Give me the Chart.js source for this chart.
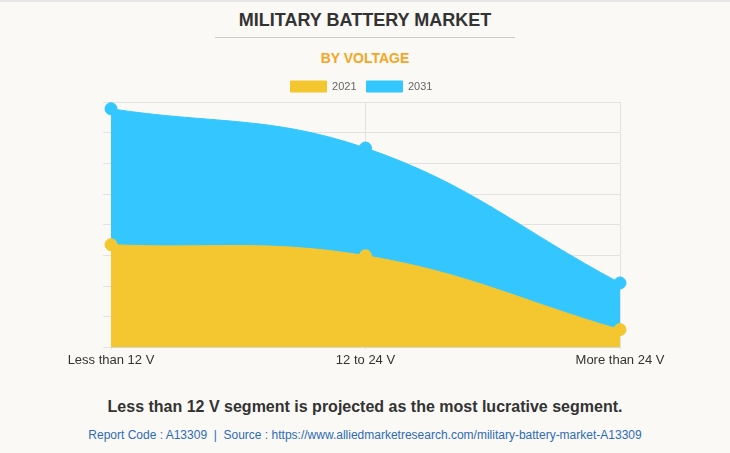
<!DOCTYPE html>
<html lang="en">
<head>
    <meta charset="UTF-8">
    <title>Military Battery Market</title>
    <style>
        html, body {
            margin: 0;
            padding: 0;
        }
        body {
            width: 730px;
            height: 453px;
            background-color: #faf9f5;
            font-family: "Liberation Sans", Arial, sans-serif;
            position: relative;
            overflow: hidden;
        }
        .frame {
            position: absolute;
            left: 0; top: 0; right: 0; bottom: 0;
            border-top: 2px solid #e6e6e6;
        }
        h1 {
            position: absolute;
            top: 10px; left: 0; width: 730px;
            margin: 0;
            text-align: center;
            font-size: 18px;
            font-weight: bold;
            color: #333;
        }
        .rule {
            position: absolute;
            top: 37px; left: 215px; width: 300px;
            border-top: 1px solid #ccc;
        }
        h2 {
            position: absolute;
            top: 50px; left: 0; width: 730px;
            margin: 0;
            text-align: center;
            font-size: 14px;
            font-weight: bold;
            color: #f5a623;
        }
        #chart-box {
            position: absolute;
            left: 0; top: 71px;
            width: 730px; height: 300px;
        }
        .note {
            position: absolute;
            top: 398px; left: 0; width: 730px;
            text-align: center;
            font-size: 16px;
            font-weight: bold;
            color: #333;
        }
        .source {
            position: absolute;
            top: 428px; left: 0; width: 730px;
            text-align: center;
            font-size: 12px;
            color: #2e6bb5;
        }
    </style>
</head>
<body>
    <div class="frame"></div>
    <h1>MILITARY BATTERY MARKET</h1>
    <div class="rule"></div>
    <h2>BY VOLTAGE</h2>
    <div id="chart-box"><canvas id="voltage-chart"></canvas></div>
    <div class="note">Less than 12 V segment is projected as the most lucrative segment.</div>
    <div class="source">Report Code : A13309 &nbsp;|&nbsp; Source : https://www.alliedmarketresearch.com/military-battery-market-A13309</div>

    <script src="https://cdn.jsdelivr.net/npm/chart.js"></script>
    <script>
        const categories = ['Less than 12 V', '12 to 24 V', 'More than 24 V'];
        const values2021 = [3.35, 2.99, 0.58];
        const values2031 = [7.78, 6.5, 2.1];

        const yellow = '#f4c730';
        const blue = '#33c6ff';

        new Chart(document.getElementById('voltage-chart'), {
            type: 'line',
            data: {
                labels: categories,
                datasets: [
                    {
                        label: '2021',
                        data: values2021,
                        backgroundColor: yellow,
                        borderColor: yellow,
                        pointBackgroundColor: yellow,
                        borderWidth: 1,
                        pointRadius: 6,
                        fill: 'origin',
                        tension: 0.4
                    },
                    {
                        label: '2031',
                        data: values2031,
                        backgroundColor: blue,
                        borderColor: blue,
                        pointBackgroundColor: blue,
                        borderWidth: 1,
                        pointRadius: 6,
                        fill: 'origin',
                        tension: 0.4
                    }
                ]
            },
            options: {
                responsive: true,
                maintainAspectRatio: false,
                animation: false,
                layout: {
                    padding: { left: 103, right: 110, top: 0, bottom: 0 }
                },
                plugins: {
                    legend: {
                        position: 'top',
                        labels: {
                            boxWidth: 36,
                            boxHeight: 11,
                            font: { size: 11, family: 'Liberation Sans' },
                            color: '#666'
                        }
                    },
                    tooltip: { enabled: false }
                },
                scales: {
                    x: {
                        grid: { color: '#e2e2e2', tickLength: 2 },
                        border: { color: '#e2e2e2' },
                        ticks: {
                            color: '#333',
                            font: { size: 13, family: 'Liberation Sans' },
                            maxRotation: 0
                        }
                    },
                    y: {
                        min: 0,
                        max: 8,
                        grid: { color: '#e2e2e2', tickLength: 8 },
                        border: { color: '#e2e2e2' },
                        ticks: { stepSize: 1, display: false }
                    }
                }
            }
        });
    </script>
</body>
</html>
